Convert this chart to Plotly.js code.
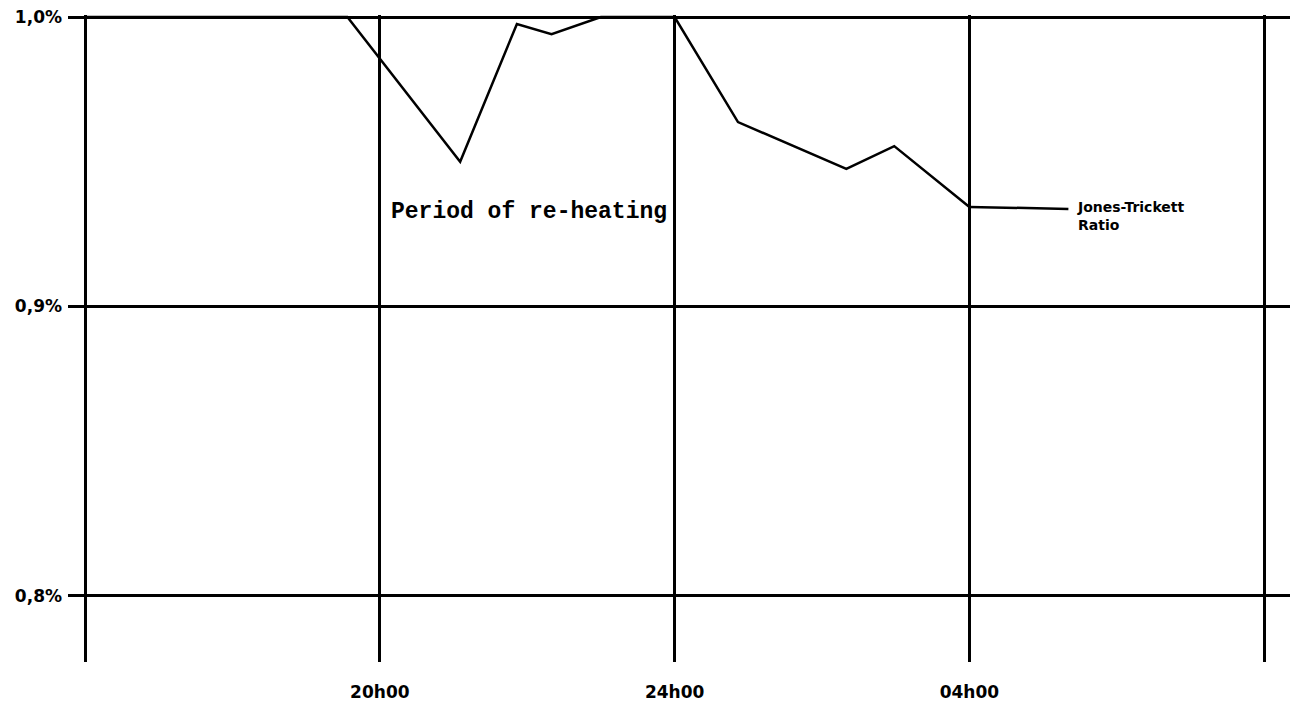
<!DOCTYPE html>
<html>
<head>
<meta charset="utf-8">
<script src="https://cdn.plot.ly/plotly-3.0.1.min.js"></script>
<style>html,body{margin:0;padding:0;background:#fff;}#chart{width:1298px;height:701px;}</style>
</head>
<body>
<div id="chart"></div>
<script>
// Time in hours (24 = midnight, 28 = 04h00 next day)
const hours = [16, 19.56, 21.09, 21.86, 22.33, 23.0, 24.0, 24.86, 26.33, 26.98, 28.0];
// Jones-Trickett ratio (%)
const ratio = [1.0, 1.0, 0.950, 0.9976, 0.9941, 1.0, 1.0, 0.9637, 0.9475, 0.9554, 0.9344];
const xTickVals = [16, 20, 24, 28, 32];
const xTickText = ["", "20h00", "24h00", "04h00", ""];
const yTickVals = [0.8, 0.9, 1.0];
const yTickText = ["0,8%", "0,9%", "1,0%"];
const seriesLabel = "Jones-Trickett<br>Ratio";
const noteText = "Period of re-heating";

const last = hours.length - 1;

const trace = {
  x: hours, y: ratio, type: "scatter", mode: "lines",
  line: {color: "#000", width: 2.5}, cliponaxis: false, hoverinfo: "skip"
};

const layout = {
  width: 1298, height: 701,
  margin: {l: 68, r: 8, t: 15, b: 39},
  paper_bgcolor: "#fff", plot_bgcolor: "#fff",
  showlegend: false,
  font: {family: "DejaVu Sans", color: "#000"},
  xaxis: {
    range: [15.769, 32.35],
    tickmode: "array", tickvals: xTickVals, ticktext: xTickText,
    showgrid: true, gridcolor: "#000", gridwidth: 3,
    zeroline: false, showline: false, ticks: "",
    ticklabelstandoff: 18,
    tickfont: {family: "DejaVu Sans", size: 17, color: "#000", weight: "bold"}
  },
  yaxis: {
    range: [0.7772, 1.00069],
    tickmode: "array", tickvals: yTickVals, ticktext: yTickText,
    showgrid: true, gridcolor: "#000", gridwidth: 3,
    zeroline: false, showline: false, ticks: "",
    ticklabelstandoff: 5,
    tickfont: {family: "DejaVu Sans", size: 17, color: "#000", weight: "bold"}
  },
  shapes: [{
    type: "line", xref: "x", yref: "y",
    xsizemode: "pixel", xanchor: hours[last], x0: 0, x1: 99,
    ysizemode: "pixel", yanchor: ratio[last], y0: 0, y1: -2,
    line: {color: "#000", width: 2.5}
  }],
  annotations: [
    {
      x: hours[last], y: ratio[last], xref: "x", yref: "y",
      xanchor: "left", yanchor: "middle", xshift: 106, yshift: -9,
      text: seriesLabel, showarrow: false, align: "left",
      font: {family: "DejaVu Sans", size: 14, color: "#000", weight: "bold"}
    },
    {
      x: 20.12, y: 0.9326, xref: "x", yref: "y",
      xanchor: "left", yanchor: "middle",
      text: noteText, showarrow: false,
      font: {family: "Liberation Mono", size: 23, color: "#000", weight: "bold"}
    }
  ]
};

Plotly.newPlot("chart", [trace], layout, {displayModeBar: false, staticPlot: true});
</script>
</body>
</html>
